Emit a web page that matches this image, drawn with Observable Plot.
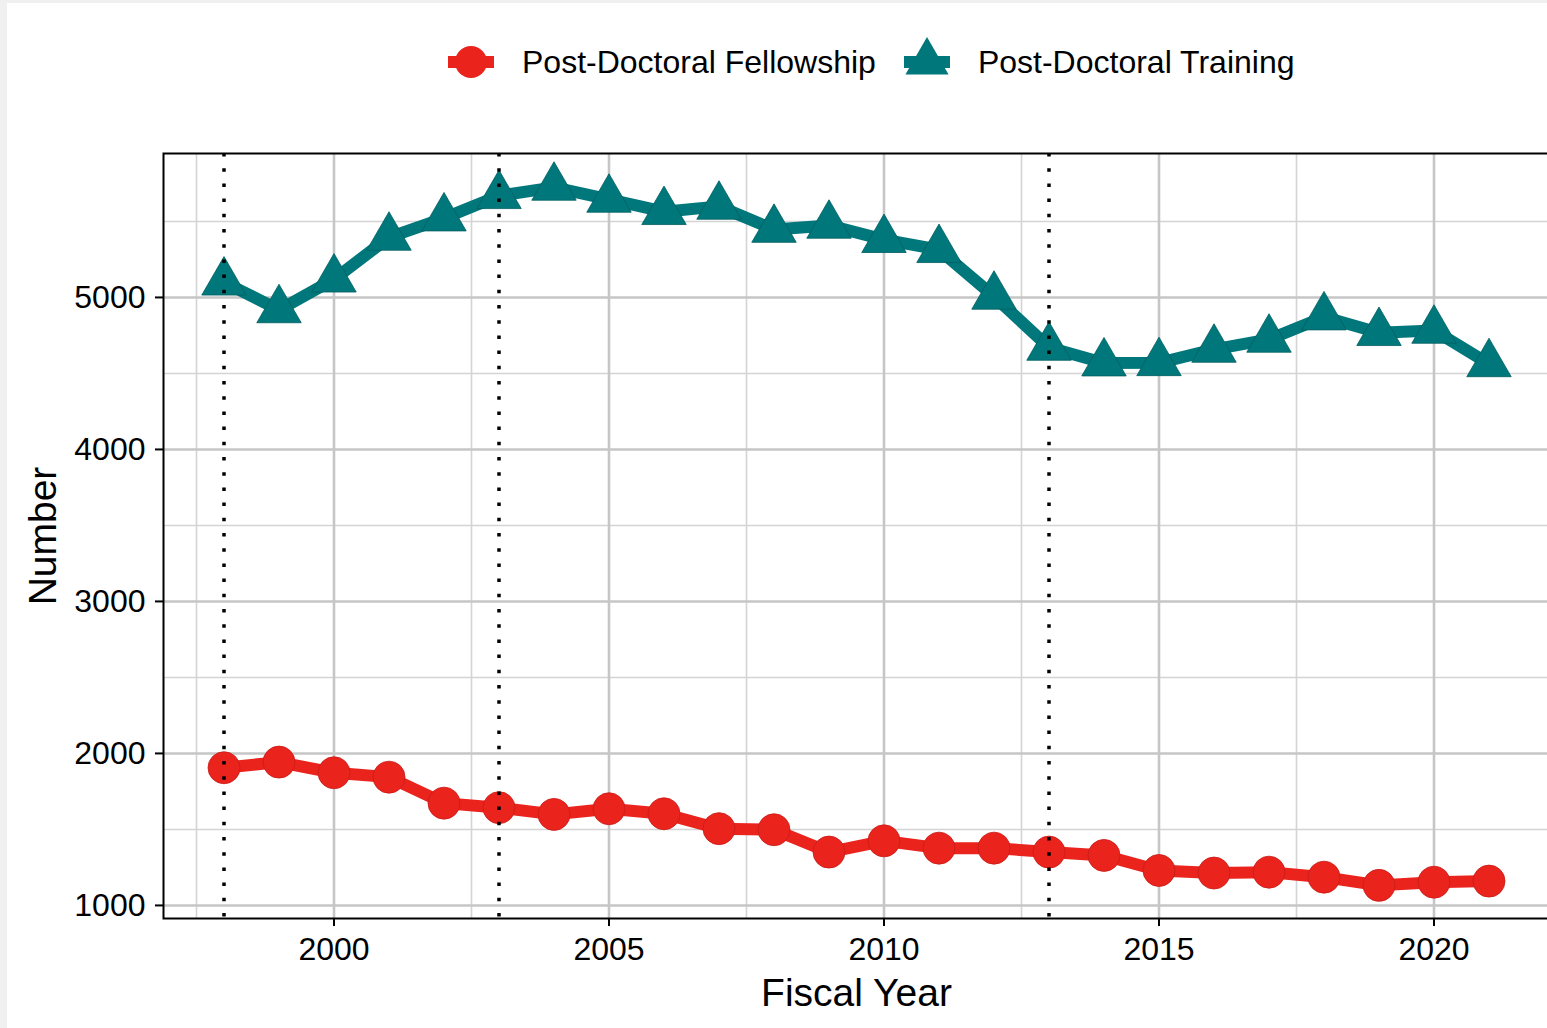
<!DOCTYPE html>
<html>
<head>
<meta charset="utf-8">
<script src="https://cdn.jsdelivr.net/npm/d3@7"></script>
<script src="https://cdn.jsdelivr.net/npm/@observablehq/plot@0.6"></script>
<style>
  html, body { margin: 0; padding: 0; background: #f0f0f0; overflow: hidden; width: 1547px; height: 1028px; }
  #page { position: absolute; left: 7px; top: 3px; width: 1600px; height: 1100px; background: white; }
  #chart { position: absolute; left: -7px; top: 107px; }
  #legend { position: absolute; left: 439px; top: 34px; display: flex; align-items: center; font-family: "Liberation Sans", Arial, sans-serif; font-size: 32px; color: #000; }
  #legend .item { display: flex; align-items: center; margin-right: 26px; }
  #legend svg { margin-right: 26px; }
</style>
</head>
<body>
<div id="page">
  <div id="legend"></div>
  <div id="chart"></div>
</div>
<script>
const years = [1998, 1999, 2000, 2001, 2002, 2003, 2004, 2005, 2006, 2007, 2008, 2009,
               2010, 2011, 2012, 2013, 2014, 2015, 2016, 2017, 2018, 2019, 2020, 2021];
const fellowship = [1906, 1943, 1873, 1844, 1673, 1643, 1599, 1636, 1603, 1505, 1498, 1351,
                    1425, 1377, 1377, 1351, 1329, 1230, 1213, 1219, 1186, 1132, 1153, 1160];
const training = [5100, 4918, 5120, 5395, 5522, 5669, 5724, 5645, 5564, 5599, 5447, 5474,
                  5380, 5314, 5007, 4671, 4568, 4570, 4658, 4724, 4871, 4768, 4783, 4563];
const seriesNames = ["Post-Doctoral Fellowship", "Post-Doctoral Training"];
const seriesColors = ["#ea231d", "#00777b"];
const seriesSymbols = ["circle", "triangle"];
const markerLines = [1998, 2003, 2013];
const xMajor = [2000, 2005, 2010, 2015, 2020];
const xMinor = [1997.5, 2002.5, 2007.5, 2012.5, 2017.5];
const yMajor = [1000, 2000, 3000, 4000, 5000];
const yMinor = [1500, 2500, 3500, 4500, 5500];

const data = [
  ...years.map((y, i) => ({year: y, value: fellowship[i], series: seriesNames[0]})),
  ...years.map((y, i) => ({year: y, value: training[i], series: seriesNames[1]}))
];

const font = "'Liberation Sans', Arial, sans-serif";

const chart = Plot.plot({
  width: 1560,
  height: 918,
  marginLeft: 163,
  marginRight: 11,
  marginTop: 43,
  marginBottom: 110,
  style: {fontFamily: font, background: "transparent", color: "#000", overflow: "visible"},
  x: {domain: [1996.9, 2022.1]},
  y: {domain: [914, 5947]},
  color: {domain: seriesNames, range: seriesColors},
  symbol: {domain: seriesNames, range: seriesSymbols},
  marks: [
    Plot.ruleX(xMinor, {stroke: "#d4d4d4", strokeWidth: 1.6}),
    Plot.ruleY(yMinor, {stroke: "#d4d4d4", strokeWidth: 1.6}),
    Plot.ruleX(xMajor, {stroke: "#c6c6c6", strokeWidth: 2.6}),
    Plot.ruleY(yMajor, {stroke: "#c6c6c6", strokeWidth: 2.6}),
    Plot.line(data, {x: "year", y: "value", z: "series", stroke: "series", strokeWidth: 12, strokeLinejoin: "round", strokeLinecap: "butt"}),
    Plot.dot(data.filter(d => d.series === seriesNames[0]), {x: "year", y: "value", fill: "series", symbol: "series", r: 16, stroke: "#c81c18", strokeWidth: 0.8}),
    Plot.dot(data.filter(d => d.series === seriesNames[1]), {x: "year", y: "value", fill: "series", symbol: "series", r: 16.5, stroke: "#005e61", strokeWidth: 0.8}),
    Plot.ruleX(markerLines, {stroke: "#000", strokeWidth: 3.5, strokeDasharray: "3.5,11.7"}),
    Plot.frame({stroke: "#000", strokeWidth: 2}),
    Plot.axisX({ticks: xMajor, tickFormat: d => String(d), fontSize: 32, tickSize: 8, tickPadding: 11, strokeWidth: 2, label: null}),
    Plot.axisY({ticks: yMajor, tickFormat: d => String(d), fontSize: 32, tickSize: 8, tickPadding: 10, strokeWidth: 2, label: null}),
    Plot.text(["Fiscal Year"], {text: d => d, frameAnchor: "bottom", textAnchor: "middle", dy: 87, fontSize: 39, fill: "#000"}),
    Plot.text(["Number"], {text: d => d, frameAnchor: "left", textAnchor: "middle", dx: -120, rotate: -90, fontSize: 39, fill: "#000"})
  ]
});
document.getElementById("chart").appendChild(chart);

// Legend
const legend = document.getElementById("legend");
seriesNames.forEach((name, i) => {
  const item = document.createElement("div");
  item.className = "item";
  const ns = "http://www.w3.org/2000/svg";
  const svg = document.createElementNS(ns, "svg");
  svg.setAttribute("width", 50);
  svg.setAttribute("height", 50);
  const line = document.createElementNS(ns, "line");
  line.setAttribute("x1", 2); line.setAttribute("x2", 48);
  line.setAttribute("y1", 25); line.setAttribute("y2", 25);
  line.setAttribute("stroke", seriesColors[i]);
  line.setAttribute("stroke-width", 12);
  svg.appendChild(line);
  const sym = document.createElementNS(ns, "path");
  const sz = Math.PI * 16 * 16;
  const type = i === 0 ? d3.symbolCircle : d3.symbolTriangle;
  sym.setAttribute("d", d3.symbol(type, sz)());
  sym.setAttribute("transform", "translate(25,25)");
  sym.setAttribute("fill", seriesColors[i]);
  svg.appendChild(sym);
  item.appendChild(svg);
  const label = document.createElement("span");
  label.textContent = name;
  item.appendChild(label);
  legend.appendChild(item);
});
</script>
</body>
</html>
